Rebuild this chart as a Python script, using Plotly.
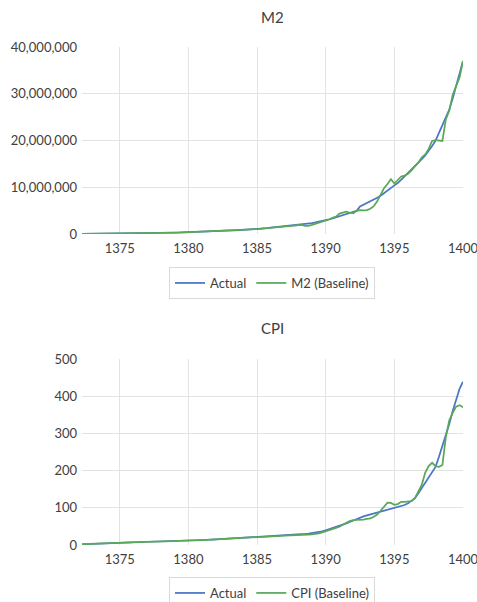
import plotly.graph_objects as go

# Quarterly observations, 1372 Q1 .. 1399 Q4 (Iranian calendar)
years = list(range(1372, 1400))
quarters = [1, 2, 3, 4]

# M2, in millions (Actual vs. baseline model)
m2_actual_mn = [
    0.04, 0.045, 0.05, 0.055,   # 1372
    0.06, 0.065, 0.07, 0.075,   # 1373
    0.08, 0.09, 0.10, 0.11,     # 1374
    0.12, 0.13, 0.14, 0.15,     # 1375
    0.16, 0.17, 0.18, 0.19,     # 1376
    0.20, 0.21, 0.22, 0.24,     # 1377
    0.25, 0.26, 0.28, 0.30,     # 1378
    0.31, 0.33, 0.35, 0.37,     # 1379
    0.39, 0.41, 0.43, 0.46,     # 1380
    0.49, 0.52, 0.55, 0.58,     # 1381
    0.61, 0.64, 0.67, 0.71,     # 1382
    0.75, 0.79, 0.83, 0.87,     # 1383
    0.91, 0.95, 1.00, 1.05,     # 1384
    1.12, 1.20, 1.28, 1.36,     # 1385
    1.44, 1.52, 1.58, 1.64,     # 1386
    1.70, 1.77, 1.84, 1.92,     # 1387
    2.00, 2.10, 2.22, 2.35,     # 1388
    2.48, 2.62, 2.78, 2.95,     # 1389
    3.15, 3.35, 3.55, 3.75,     # 1390
    3.95, 4.25, 4.50, 4.75,     # 1391
    4.95, 5.90, 6.25, 6.55,     # 1392
    6.90, 7.30, 7.75, 8.20,     # 1393
    8.80, 9.35, 9.90, 10.40,    # 1394
    10.9, 11.6, 12.3, 13.0,     # 1395
    13.7, 14.4, 15.2, 16.0,     # 1396
    16.8, 17.7, 18.8, 20.0,     # 1397
    21.6, 23.3, 24.9, 26.6,     # 1398
    29.0, 31.8, 34.5, 37.0,     # 1399
]
m2_baseline_mn = [
    0.04, 0.045, 0.05, 0.055,   # 1372
    0.06, 0.065, 0.07, 0.075,   # 1373
    0.08, 0.09, 0.10, 0.11,     # 1374
    0.12, 0.13, 0.14, 0.15,     # 1375
    0.16, 0.17, 0.18, 0.19,     # 1376
    0.20, 0.21, 0.22, 0.23,     # 1377
    0.26, 0.28, 0.29, 0.30,     # 1378
    0.31, 0.32, 0.34, 0.37,     # 1379
    0.40, 0.42, 0.44, 0.46,     # 1380
    0.48, 0.50, 0.53, 0.57,     # 1381
    0.62, 0.66, 0.69, 0.72,     # 1382
    0.74, 0.77, 0.81, 0.86,     # 1383
    0.90, 0.94, 0.99, 1.04,     # 1384
    1.10, 1.22, 1.27, 1.35,     # 1385
    1.42, 1.48, 1.52, 1.58,     # 1386
    1.62, 1.70, 1.80, 1.90,     # 1387
    1.95, 1.72, 1.74, 1.95,     # 1388
    2.15, 2.40, 2.62, 2.80,     # 1389
    3.10, 3.45, 3.70, 4.35,     # 1390
    4.60, 4.76, 4.55, 4.40,     # 1391
    4.95, 5.10, 5.05, 5.10,     # 1392
    5.40, 5.95, 7.00, 8.50,     # 1393
    9.80, 10.70, 11.70, 10.80,  # 1394
    11.6, 12.3, 12.5, 12.9,     # 1395
    13.6, 14.4, 15.3, 16.4,     # 1396
    17.0, 18.2, 19.9, 20.1,     # 1397
    20.0, 19.9, 24.5, 26.4,     # 1398
    29.8, 31.5, 33.5, 37.0,     # 1399
]

# CPI index (Actual vs. baseline model)
cpi_actual = [
    2.0, 2.5, 3.0, 3.5,         # 1372
    3.8, 4.1, 4.4, 4.8,         # 1373
    5.2, 5.6, 6.0, 6.4,         # 1374
    6.7, 7.0, 7.2, 7.4,         # 1375
    7.6, 7.8, 8.1, 8.4,         # 1376
    8.7, 9.0, 9.3, 9.6,         # 1377
    9.9, 10.2, 10.5, 10.8,      # 1378
    11.1, 11.4, 11.7, 12.0,     # 1379
    12.3, 12.6, 12.9, 13.3,     # 1380
    13.7, 14.1, 14.5, 15.0,     # 1381
    15.5, 16.0, 16.5, 17.0,     # 1382
    17.5, 18.0, 18.5, 19.0,     # 1383
    19.4, 19.8, 20.2, 20.7,     # 1384
    21.2, 21.8, 22.4, 23.0,     # 1385
    23.7, 24.4, 25.1, 25.8,     # 1386
    26.5, 27.2, 27.9, 28.6,     # 1387
    29.2, 29.8, 30.6, 31.6,     # 1388
    33.0, 34.5, 36.5, 39.5,     # 1389
    42.5, 45.0, 47.5, 50.5,     # 1390
    54.0, 58.0, 62.0, 66.0,     # 1391
    70.0, 74.0, 77.0, 79.5,     # 1392
    82.0, 84.5, 87.0, 89.5,     # 1393
    92.0, 94.5, 97.0, 99.5,     # 1394
    101.5, 104.0, 107.5, 112.0, # 1395
    118.0, 126.0, 139.0, 153.0, # 1396
    167.0, 181.0, 196.0, 210.0, # 1397
    237.0, 265.0, 293.0, 325.0, # 1398
    360.0, 392.0, 420.0, 439.0, # 1399
]
cpi_baseline = [
    2.2, 2.6, 3.1, 3.6,         # 1372
    3.9, 4.2, 4.5, 4.9,         # 1373
    5.3, 5.7, 6.1, 6.5,         # 1374
    6.8, 7.0, 7.1, 7.3,         # 1375
    7.5, 7.7, 8.0, 8.3,         # 1376
    8.6, 8.9, 9.2, 9.5,         # 1377
    9.8, 10.1, 10.4, 10.7,      # 1378
    11.0, 11.3, 11.6, 11.9,     # 1379
    11.5, 11.0, 12.6, 13.4,     # 1380
    13.9, 14.3, 14.7, 15.1,     # 1381
    15.4, 15.8, 16.4, 17.0,     # 1382
    17.4, 17.9, 18.4, 18.9,     # 1383
    19.3, 19.7, 20.1, 20.5,     # 1384
    21.0, 21.6, 22.2, 22.8,     # 1385
    23.4, 24.0, 24.6, 25.3,     # 1386
    25.8, 26.3, 27.0, 28.0,     # 1387
    29.0, 27.5, 28.0, 28.5,     # 1388
    29.6, 31.5, 34.0, 37.5,     # 1389
    40.5, 43.0, 46.0, 49.0,     # 1390
    55.0, 60.0, 64.0, 67.0,     # 1391
    67.5, 67.0, 68.5, 70.0,     # 1392
    71.6, 76.0, 82.0, 92.0,     # 1393
    102.0, 114.0, 113.0, 108.0, # 1394
    110.0, 116.0, 116.0, 117.0, # 1395
    118.0, 126.0, 146.0, 162.0, # 1396
    195.0, 212.0, 221.0, 212.0, # 1397
    210.0, 215.0, 290.0, 335.0, # 1398
    355.0, 372.0, 376.0, 370.0, # 1399
]

x_ticks = [1375, 1380, 1385, 1390, 1395, 1400]
m2_ticks = [0, 10_000_000, 20_000_000, 30_000_000, 40_000_000]
cpi_ticks = [0, 100, 200, 300, 400, 500]

# each quarter sits at the end of its quarter on a continuous year axis
periods = [y + q / 4 for y in years for q in quarters]
m2_actual = [v * 1_000_000 for v in m2_actual_mn]
m2_baseline = [v * 1_000_000 for v in m2_baseline_mn]

BLUE = "#4a76c6"
GREEN = "#5aa85a"
TEXT = "#404040"
GRID = "#e3e3e3"
FONT = "Lato, 'Open Sans', sans-serif"

fig = go.Figure()
fig.add_trace(go.Scatter(x=periods, y=m2_actual, name="Actual", mode="lines",
                         line=dict(color=BLUE, width=1.75), xaxis="x", yaxis="y",
                         legend="legend"))
fig.add_trace(go.Scatter(x=periods, y=m2_baseline, name="M2 (Baseline)", mode="lines",
                         line=dict(color=GREEN, width=1.75), xaxis="x", yaxis="y",
                         legend="legend"))
fig.add_trace(go.Scatter(x=periods, y=cpi_actual, name="Actual", mode="lines",
                         line=dict(color=BLUE, width=1.75), xaxis="x2", yaxis="y2",
                         legend="legend2"))
fig.add_trace(go.Scatter(x=periods, y=cpi_baseline, name="CPI (Baseline)", mode="lines",
                         line=dict(color=GREEN, width=1.75), xaxis="x2", yaxis="y2",
                         legend="legend2"))

W, H = 477, 602
x_dom = [82 / W, 463 / W]

common_x = dict(range=[1372.25, 1400], tickvals=x_ticks, showgrid=True, gridcolor=GRID,
                gridwidth=1, zeroline=False, showline=False, ticks="",
                ticklabelstandoff=5, ticklabeloverflow="allow",
                tickfont=dict(family=FONT, size=13, color=TEXT), fixedrange=True)
common_y = dict(showgrid=True, gridcolor=GRID, gridwidth=1, zeroline=False,
                showline=False, ticks="", ticklabelstandoff=4,
                tickfont=dict(family=FONT, size=13, color=TEXT), fixedrange=True)

legend_style = dict(orientation="h", xanchor="center", x=272 / W, yanchor="top",
                    bgcolor="white", bordercolor="#d9d9d9", borderwidth=1,
                    font=dict(family=FONT, size=13, color=TEXT))

fig.update_layout(
    width=W, height=H,
    margin=dict(l=0, r=0, t=0, b=0, autoexpand=False),
    paper_bgcolor="white", plot_bgcolor="white",
    font=dict(family=FONT, color=TEXT),
    xaxis=dict(domain=x_dom, anchor="y", **common_x),
    yaxis=dict(domain=[1 - 234 / H, 1 - 47 / H], anchor="x", range=[0, 40_000_000],
               tickvals=m2_ticks, tickformat=",d", **common_y),
    xaxis2=dict(domain=x_dom, anchor="y2", **common_x),
    yaxis2=dict(domain=[1 - 545 / H, 1 - 359 / H], anchor="x2", range=[0, 500],
                tickvals=cpi_ticks, **common_y),
    legend=dict(y=1 - 267 / H, **legend_style),
    legend2=dict(y=1 - 577 / H, **legend_style),
    annotations=[
        dict(text="M2", x=272.5 / W, y=1 - 17 / H, xref="paper", yref="paper",
             xanchor="center", yanchor="middle", showarrow=False,
             font=dict(family=FONT, size=15, color=TEXT)),
        dict(text="CPI", x=272.5 / W, y=1 - 328 / H, xref="paper", yref="paper",
             xanchor="center", yanchor="middle", showarrow=False,
             font=dict(family=FONT, size=15, color=TEXT)),
    ],
    showlegend=True,
)

fig.write_html("out.html", config={"displayModeBar": False})
